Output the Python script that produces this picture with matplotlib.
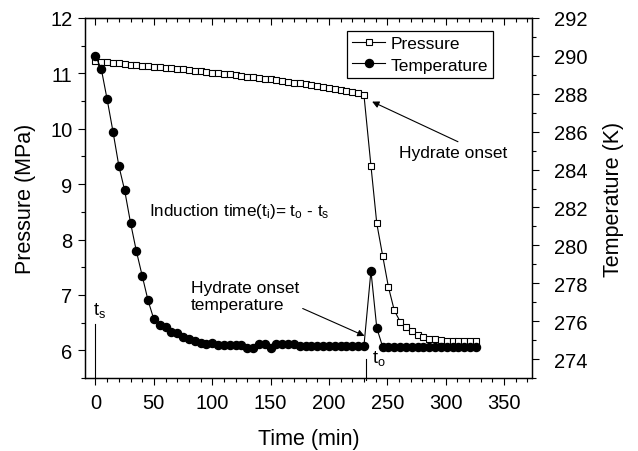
import matplotlib
matplotlib.use('Agg')
import matplotlib.pyplot as plt
from matplotlib.ticker import MultipleLocator

plt.rcParams['font.family'] = ['Liberation Sans', 'DejaVu Sans']
plt.rcParams['mathtext.default'] = 'regular'

# time (min), shared by both series
time = [0, 5, 10, 15, 20, 25, 30, 35, 40, 45, 50, 55, 60, 65, 70, 75, 80, 85, 90, 95,
        100, 105, 110, 115, 120, 125, 130, 135, 140, 145, 150, 155, 160, 165, 170, 175,
        180, 185, 190, 195, 200, 205, 210, 215, 220, 225, 230,
        236, 241, 246, 251, 256, 261, 266, 271, 276, 281, 286, 291, 296, 301, 306, 311,
        316, 321, 326]

# pressure (MPa)
pressure = [11.22, 11.21, 11.20, 11.19, 11.18, 11.17, 11.16, 11.15, 11.14, 11.13,
            11.12, 11.11, 11.10, 11.09, 11.08, 11.07, 11.06, 11.05, 11.04, 11.03,
            11.01, 11.00, 10.99, 10.98, 10.97, 10.95, 10.94, 10.93, 10.92, 10.90,
            10.89, 10.88, 10.86, 10.85, 10.83, 10.82, 10.80, 10.79, 10.77, 10.75,
            10.73, 10.72, 10.70, 10.68, 10.66, 10.64, 10.61,
            9.33, 8.29, 7.71, 7.14, 6.72, 6.52, 6.42, 6.34, 6.28, 6.24, 6.21, 6.20,
            6.18, 6.17, 6.17, 6.16, 6.16, 6.16, 6.16]

# temperature (K)
temperature = [290.0, 289.3, 287.7, 286.0, 284.2, 282.9, 281.2, 279.7, 278.4, 277.1,
               276.1, 275.8, 275.7, 275.45, 275.35, 275.15, 275.05, 274.95, 274.85, 274.8,
               274.85, 274.76, 274.72, 274.72, 274.72, 274.72, 274.6, 274.6, 274.8, 274.8,
               274.6, 274.8, 274.8, 274.8, 274.8, 274.7, 274.7, 274.7, 274.7, 274.7,
               274.7, 274.7, 274.7, 274.7, 274.7, 274.7, 274.7,
               278.65, 275.64, 274.65, 274.65, 274.65, 274.65, 274.65, 274.65, 274.65,
               274.65, 274.65, 274.65, 274.65, 274.65, 274.65, 274.65, 274.65, 274.65,
               274.65]

t_start = 0
t_onset = 232

fig = plt.figure(figsize=(6.38, 4.52), dpi=100)
ax = fig.add_axes([0.1332, 0.1615, 0.7007, 0.7965])
ax2 = ax.twinx()

p_line, = ax.plot(time, pressure, color='k', lw=0.8, marker='s', markersize=4.8,
                  markerfacecolor='white', markeredgecolor='k', markeredgewidth=0.8,
                  label='Pressure')
t_line, = ax2.plot(time, temperature, color='k', lw=0.8, marker='o', markersize=5.8,
                   markerfacecolor='k', markeredgecolor='k', label='Temperature')

ax.set_xlim(-9, 374)
ax.set_ylim(5.5, 12)
ax2.set_ylim(273, 292)

ax.xaxis.set_major_locator(MultipleLocator(50))
ax.xaxis.set_minor_locator(MultipleLocator(10))
ax.yaxis.set_major_locator(MultipleLocator(1))
ax.yaxis.set_minor_locator(MultipleLocator(0.5))
ax2.yaxis.set_major_locator(MultipleLocator(2))
ax2.yaxis.set_minor_locator(MultipleLocator(1))

for a in (ax, ax2):
    for s in a.spines.values():
        s.set_linewidth(0.9)

ax.tick_params(axis='x', which='both', direction='out', labelsize=14.5, pad=6)
ax.tick_params(axis='y', which='both', direction='out', labelsize=14.5, pad=4)
ax2.tick_params(axis='y', which='both', direction='out', labelsize=14.5, pad=11)
for a in (ax, ax2):
    a.tick_params(which='major', length=5, width=0.8)
    a.tick_params(which='minor', length=3, width=0.8)

top = ax.secondary_xaxis('top')
top.xaxis.set_major_locator(MultipleLocator(50))
top.xaxis.set_minor_locator(MultipleLocator(10))
top.tick_params(which='both', direction='in', labeltop=False, width=0.8)
top.tick_params(which='major', length=5)
top.tick_params(which='minor', length=3)

ax.set_xlabel('Time (min)', fontsize=15.5, labelpad=11)
ax.set_ylabel('Pressure (MPa)', fontsize=15.5, labelpad=10)
ax2.set_ylabel('Temperature (K)', fontsize=15.5, labelpad=11)

leg = ax2.legend([p_line, t_line], ['Pressure', 'Temperature'], loc='upper right',
                 bbox_to_anchor=(0.913, 0.964), fontsize=12.5, frameon=True,
                 fancybox=False, edgecolor='k', framealpha=1, handlelength=1.9,
                 handletextpad=0.3, borderpad=0.3, labelspacing=0.35,
                 borderaxespad=0.0)
leg.get_frame().set_linewidth(0.9)

# annotations
ax.text(46, 8.52, 'Induction time(t$_i$)= t$_o$ - t$_s$', fontsize=12.3,
        ha='left', va='center')
ax.annotate('Hydrate onset', xy=(237, 10.49), xytext=(260, 9.58), fontsize=12.5,
            ha='left', va='center',
            arrowprops=dict(arrowstyle='-|>', color='k', lw=0.8, mutation_scale=10,
                            shrinkA=0, shrinkB=0, relpos=(0.6, 1.0)))
ax.annotate('Hydrate onset\ntemperature', xy=(230.5, 6.26), xytext=(82, 6.98),
            fontsize=12.5, ha='left', va='center', linespacing=1.1,
            arrowprops=dict(arrowstyle='-|>', color='k', lw=0.8, mutation_scale=10,
                            shrinkA=0, shrinkB=0, relpos=(1.03, 0.1)))

ax.plot([t_start, t_start], [5.5, 6.47], color='k', lw=0.8)
ax.text(-2.5, 6.66, 't$_s$', fontsize=13, ha='left', va='baseline')
ax.plot([t_onset, t_onset], [5.46, 5.84], color='k', lw=0.8, clip_on=False)
ax.text(236.5, 5.79, 't$_o$', fontsize=13, ha='left', va='baseline')

fig.savefig('out.png', dpi=100)
